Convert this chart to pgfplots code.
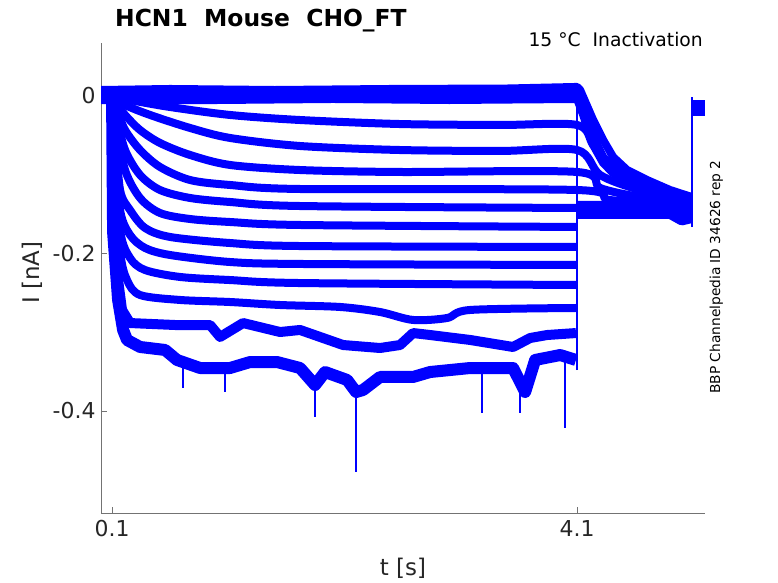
\documentclass[border=0pt]{standalone}
\usepackage{fontspec}
\setmainfont{DejaVu Sans}
\usepackage{pgfplots}
\pgfplotsset{compat=1.18}
\definecolor{mblue}{RGB}{0,0,255}
\definecolor{axgray}{RGB}{38,38,38}
\begin{document}
\begin{tikzpicture}[x=1bp,y=1bp]
\useasboundingbox (0,0) rectangle (778,583);
\begin{axis}[
 at={(101bp,70bp)}, anchor=south west, width=604bp, height=470bp, scale only axis,
 xmin=0.005, xmax=5.2, ymin=-0.5295, ymax=0.0673,
 axis lines*=left, axis line style={-, draw=black!55, line width=0.8bp},
 xtick={0.1,4.1}, xticklabels={0.1,4.1},
 ytick={-0.4,-0.2,0}, yticklabels={-0.4,-0.2,{0\hspace{22bp}}},
 tick align=inside, major tick length=6bp,
 every tick/.style={draw=black!55, line width=0.8bp},
 ticklabel style={font=\fontsize{22}{26}\selectfont, text=axgray},
 xticklabel style={yshift=-4bp},
 yticklabel style={xshift=-2bp},
 xlabel={t [s]}, ylabel={I [nA]},
 label style={font=\fontsize{23}{27}\selectfont, text=axgray},
 xlabel style={at={(axis description cs:0.5,0)}, anchor=base, yshift=-63bp},
 ylabel style={at={(axis description cs:-0.101,0.511)}, anchor=base},
 unbounded coords=jump,
 tr/.style={mblue, line width=8bp, line join=round},
 sm/.style={smooth, tension=0.5},
 thn/.style={mblue, line width=1.5bp},
]
% zero traces
\addplot[tr] coordinates {(0.005,0.0076) (0.6,0.0089) (1.5,0.0076) (2.5,0.0089) (3.5,0.0095) (4.1,0.0115) (4.126,0.0076) (4.238,-0.0305) (4.324,-0.0559) (4.410,-0.0775) (4.530,-0.0940) (4.702,-0.1067) (4.900,-0.1194) (5.085,-0.1283)};
\addplot[tr] coordinates {(0.005,0.0013) (1.0,0.0013) (2.0,0.0025) (3.0,0.0013) (4.1,0.0025) (4.126,-0.0051) (4.238,-0.0521) (4.324,-0.0775) (4.410,-0.0902) (4.530,-0.1029) (4.702,-0.1156) (4.900,-0.1257) (5.085,-0.1321)};
\addplot[tr] coordinates {(0.005,-0.0051) (1.0,-0.0051) (2.0,-0.0038) (3.0,-0.0051) (4.1,-0.0038) (4.152,-0.0241) (4.238,-0.0622) (4.324,-0.0851) (4.410,-0.0978) (4.642,-0.1194) (4.900,-0.1295) (5.085,-0.1359)};
% trace 1
\addplot[tr, sm] coordinates {(0.1,0) (0.255,-0.0051) (0.599,-0.0140) (1.115,-0.0241) (1.717,-0.0305) (2.577,-0.0356) (3.438,-0.0368) (4.1,-0.0368) (4.238,-0.0622) (4.384,-0.0876) (4.642,-0.1092) (5.085,-0.1283)};
% trace 2
\addplot[tr, sm] coordinates {(0.1,0) (0.212,-0.0114) (0.427,-0.0241) (0.771,-0.0406) (1.115,-0.0533) (1.717,-0.0635) (2.577,-0.0686) (3.438,-0.0698) (4.1,-0.0686) (4.298,-0.1003) (4.642,-0.1194) (5.085,-0.1321)};
% trace 3
\addplot[tr, sm] coordinates {(0.1,0) (0.152,-0.0114) (0.212,-0.0241) (0.341,-0.0432) (0.513,-0.0597) (0.771,-0.0749) (1.115,-0.0876) (1.717,-0.0940) (2.577,-0.0965) (4.1,-0.0965) (4.298,-0.1168) (4.642,-0.1283) (5.085,-0.1359)};
% trace 4
\addplot[tr, sm] coordinates {(0.1,0) (0.143,-0.0178) (0.212,-0.0432) (0.341,-0.0686) (0.513,-0.0902) (0.771,-0.1067) (1.115,-0.1130) (1.717,-0.1181) (4.1,-0.1194) (4.384,-0.1321) (5.085,-0.1384)};
% trace 5
\addplot[tr, sm] coordinates {(0.1,0) (0.134,-0.0241) (0.212,-0.0686) (0.341,-0.1003) (0.513,-0.1194) (0.771,-0.1295) (1.115,-0.1346) (1.717,-0.1397) (4.1,-0.1422) (5.085,-0.1422)};
% trace 6
\addplot[tr, sm] coordinates {(0.1,0) (0.126,-0.0305) (0.212,-0.0940) (0.341,-0.1295) (0.513,-0.1486) (0.771,-0.1562) (1.115,-0.1600) (1.717,-0.1638) (4.09,-0.1663) (4.095,nan) (4.1,-0.1384) (5.085,-0.1384)};
% trace 7
\addplot[tr, sm] coordinates {(0.1,0) (0.126,-0.0432) (0.169,-0.1194) (0.255,-0.1448) (0.384,-0.1676) (0.599,-0.1790) (1.115,-0.1867) (1.717,-0.1905) (4.09,-0.1917) (4.095,nan) (4.1,-0.1448) (5.085,-0.1448)};
% trace 8
\addplot[tr, sm] coordinates {(0.1,0) (0.126,-0.0559) (0.169,-0.1448) (0.255,-0.1765) (0.384,-0.1930) (0.599,-0.2019) (1.115,-0.2108) (1.717,-0.2133) (4.09,-0.2146) (4.095,nan) (4.1,-0.1410) (5.085,-0.1410)};
% trace 9
\addplot[tr, sm] coordinates {(0.1,0) (0.117,-0.0559) (0.169,-0.1702) (0.255,-0.2057) (0.384,-0.2210) (0.685,-0.2298) (1.115,-0.2337) (1.717,-0.2375) (4.09,-0.2400) (4.095,nan) (4.1,-0.1473) (5.085,-0.1473)};
% trace 10
\addplot[tr, sm] coordinates {(0.1,0) (0.117,-0.0686) (0.169,-0.1956) (0.229,-0.2337) (0.341,-0.2527) (0.685,-0.2590) (1.115,-0.2616) (1.545,-0.2654) (2.061,-0.2679) (2.405,-0.2743) (2.689,-0.2844) (2.982,-0.2819) (3.180,-0.2717) (4.09,-0.2692) (4.095,nan) (4.1,-0.1435) (5.085,-0.1435)};
% trace 11
\addplot[tr, line width=10bp] coordinates {(0.1,0) (0.109,-0.1067) (0.152,-0.2337) (0.186,-0.2717) (0.255,-0.2883) (0.642,-0.2908) (0.943,-0.2908) (1.029,-0.3060) (1.227,-0.2883) (1.545,-0.2997) (1.717,-0.2971) (2.087,-0.3162) (2.405,-0.3200) (2.577,-0.3162) (2.689,-0.3010) (2.835,-0.3035) (3.180,-0.3098) (3.549,-0.3187) (3.696,-0.3073) (3.842,-0.3035) (4.09,-0.3010) (4.095,nan) (4.1,-0.1498) (4.9,-0.1498) (5.0,-0.158) (5.085,-0.155)};
% trace 12
\addplot[tr, line width=12bp] coordinates {(0.1,0) (0.109,-0.1727) (0.152,-0.2590) (0.195,-0.2971) (0.229,-0.3098) (0.341,-0.3187) (0.556,-0.3225) (0.659,-0.3352) (0.857,-0.3454) (1.115,-0.3454) (1.287,-0.3378) (1.519,-0.3378) (1.717,-0.3454) (1.846,-0.3670) (1.932,-0.3505) (2.122,-0.3606) (2.199,-0.3759) (2.259,-0.3733) (2.405,-0.3568) (2.689,-0.3568) (2.835,-0.3505) (3.180,-0.3454) (3.549,-0.3454) (3.653,-0.3759) (3.739,-0.3352) (3.954,-0.3289) (4.09,-0.3352) (4.095,nan) (4.1,-0.1460) (5.085,-0.1460)};
% step edges
\addplot[thn] coordinates {(4.1,-0.348) (4.1,0.015)};
\addplot[thn] coordinates {(5.089,-0.1663) (5.089,-0.0013)};
\addplot[tr, line width=16bp] coordinates {(5.089,-0.0152) (5.2,-0.0152)};
% spikes
\addplot[thn] coordinates {(0.711,-0.335) (0.711,-0.3708) (0.72,nan) (1.072,-0.345) (1.072,-0.3759) (1.08,nan) (1.846,-0.36) (1.846,-0.4076) (1.85,nan) (2.199,-0.37) (2.199,-0.4775) (2.21,nan) (3.283,-0.35) (3.283,-0.4025) (3.29,nan) (3.610,-0.36) (3.610,-0.4025) (3.62,nan) (3.997,-0.33) (3.997,-0.4216)};
\end{axis}
\node[anchor=base west, font=\fontsize{23.5}{28}\selectfont\bfseries, inner sep=0] at (115,556) {HCN1~~Mouse~~CHO\_FT};
\node[anchor=base east, font=\fontsize{18.8}{22}\selectfont, inner sep=0] at (703,536) {15 °C~~Inactivation};
\node[rotate=90, anchor=base, font=\fontsize{13.8}{16}\selectfont, inner sep=0] at (720,306) {BBP Channelpedia ID 34626 rep 2};
\end{tikzpicture}
\end{document}
